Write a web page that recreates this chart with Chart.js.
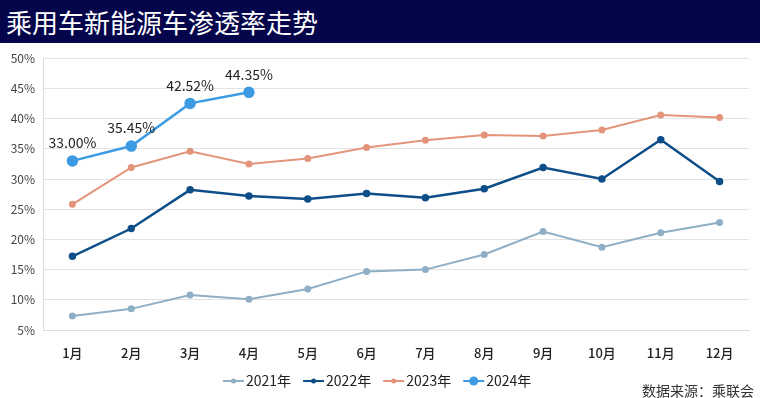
<!DOCTYPE html>
<html>
<head>
<meta charset="utf-8">
<script src="https://cdn.jsdelivr.net/npm/chart.js@4"></script>
<style>
  body{margin:0;width:760px;height:398px;background:#fff;overflow:hidden;font-family:"Noto Sans CJK SC","Noto Sans",sans-serif;position:relative}
  #title{height:43px;background:#05054b;color:#fff;font-size:26px;line-height:43px;padding-left:6px;white-space:nowrap}
  #box{position:absolute;left:0;top:43px;width:760px;height:355px}
  #src{position:absolute;right:6px;top:380px;font-size:14px;color:#333}
</style>
</head>
<body>
<div id="title">乘用车新能源车渗透率走势</div>
<div id="box"><canvas id="c"></canvas></div>
<div id="src">数据来源：乘联会</div>
<script>
// months and yearly penetration rates (%)
const months=['1月','2月','3月','4月','5月','6月','7月','8月','9月','10月','11月','12月'];
const y2021=[7.3,8.5,10.8,10.1,11.8,14.7,15.0,17.5,21.3,18.7,21.1,22.8];
const y2022=[17.2,21.8,28.2,27.2,26.7,27.6,26.9,28.4,31.9,30.0,36.5,29.6];
const y2023=[25.8,31.9,34.6,32.5,33.4,35.2,36.4,37.3,37.1,38.1,40.6,40.2];
const y2024=[33.00,35.45,42.52,44.35];
const yTicks=[5,10,15,20,25,30,35,40,45,50];

const font='"Noto Sans CJK SC","Noto Sans",sans-serif';

// labels over the 2024 points
const pointLabels={
  id:'pointLabels',
  afterDatasetsDraw(chart){
    const ctx=chart.ctx;
    const meta=chart.getDatasetMeta(3);
    ctx.save();
    ctx.font='14px '+font;
    ctx.fillStyle='#222';
    ctx.textAlign='center';
    ctx.textBaseline='middle';
    meta.data.forEach((p,i)=>{
      ctx.fillText(y2024[i].toFixed(2)+'%',p.x,p.y-18);
    });
    ctx.restore();
  }
};

// legend drawn under the x axis
const bottomLegend={
  id:'bottomLegend',
  afterDraw(chart){
    const ctx=chart.ctx;
    ctx.save();
    ctx.font='14px '+font;
    ctx.textBaseline='middle';
    let x=223;
    const y=338;
    chart.data.datasets.forEach(ds=>{
      ctx.strokeStyle=ds.borderColor;
      ctx.lineWidth=2;
      ctx.beginPath();ctx.moveTo(x,y);ctx.lineTo(x+21,y);ctx.stroke();
      ctx.fillStyle=ds.borderColor;
      ctx.beginPath();ctx.arc(x+10.5,y,ds.pointRadius,0,Math.PI*2);ctx.fill();
      ctx.fillStyle='#222';
      ctx.fillText(ds.label,x+23,y);
      x+=23+ctx.measureText(ds.label).width+12;
    });
    ctx.restore();
  }
};

new Chart(document.getElementById('c'),{
  type:'line',
  data:{
    labels:months,
    datasets:[
      {label:'2021年',data:y2021,borderColor:'#8eafc6',backgroundColor:'#8eafc6',borderWidth:2,pointRadius:2.5,tension:0},
      {label:'2022年',data:y2022,borderColor:'#0e4e88',backgroundColor:'#0e4e88',borderWidth:2.5,pointRadius:2.5,tension:0},
      {label:'2023年',data:y2023,borderColor:'#e3957b',backgroundColor:'#e3957b',borderWidth:2,pointRadius:2.5,tension:0},
      {label:'2024年',data:y2024,borderColor:'#3c9be2',backgroundColor:'#3c9be2',borderWidth:2.5,pointRadius:4.5,tension:0}
    ]
  },
  options:{
    responsive:true,
    maintainAspectRatio:false,
    animation:false,
    layout:{padding:{top:14,right:11,left:0,bottom:0}},
    plugins:{legend:{display:false},tooltip:{enabled:false}},
    scales:{
      x:{
        offset:true,
        grid:{display:false,drawTicks:false},
        border:{display:true,color:'#dcdcdc'},
        ticks:{padding:15,color:'#222',font:{family:font,size:13,weight:'500'}},
        afterFit(s){s.height=68;}
      },
      y:{
        min:5,max:50,
        afterBuildTicks(s){s.ticks=yTicks.map(v=>({value:v}));},
        grid:{color:'#e3e3e3',drawTicks:false},
        border:{display:true,color:'#dcdcdc'},
        ticks:{padding:8,color:'#444',font:{family:font,size:12},callback:v=>v+'%'},
        afterFit(s){s.width=43;}
      }
    }
  },
  plugins:[pointLabels,bottomLegend]
});
</script>
</body>
</html>
